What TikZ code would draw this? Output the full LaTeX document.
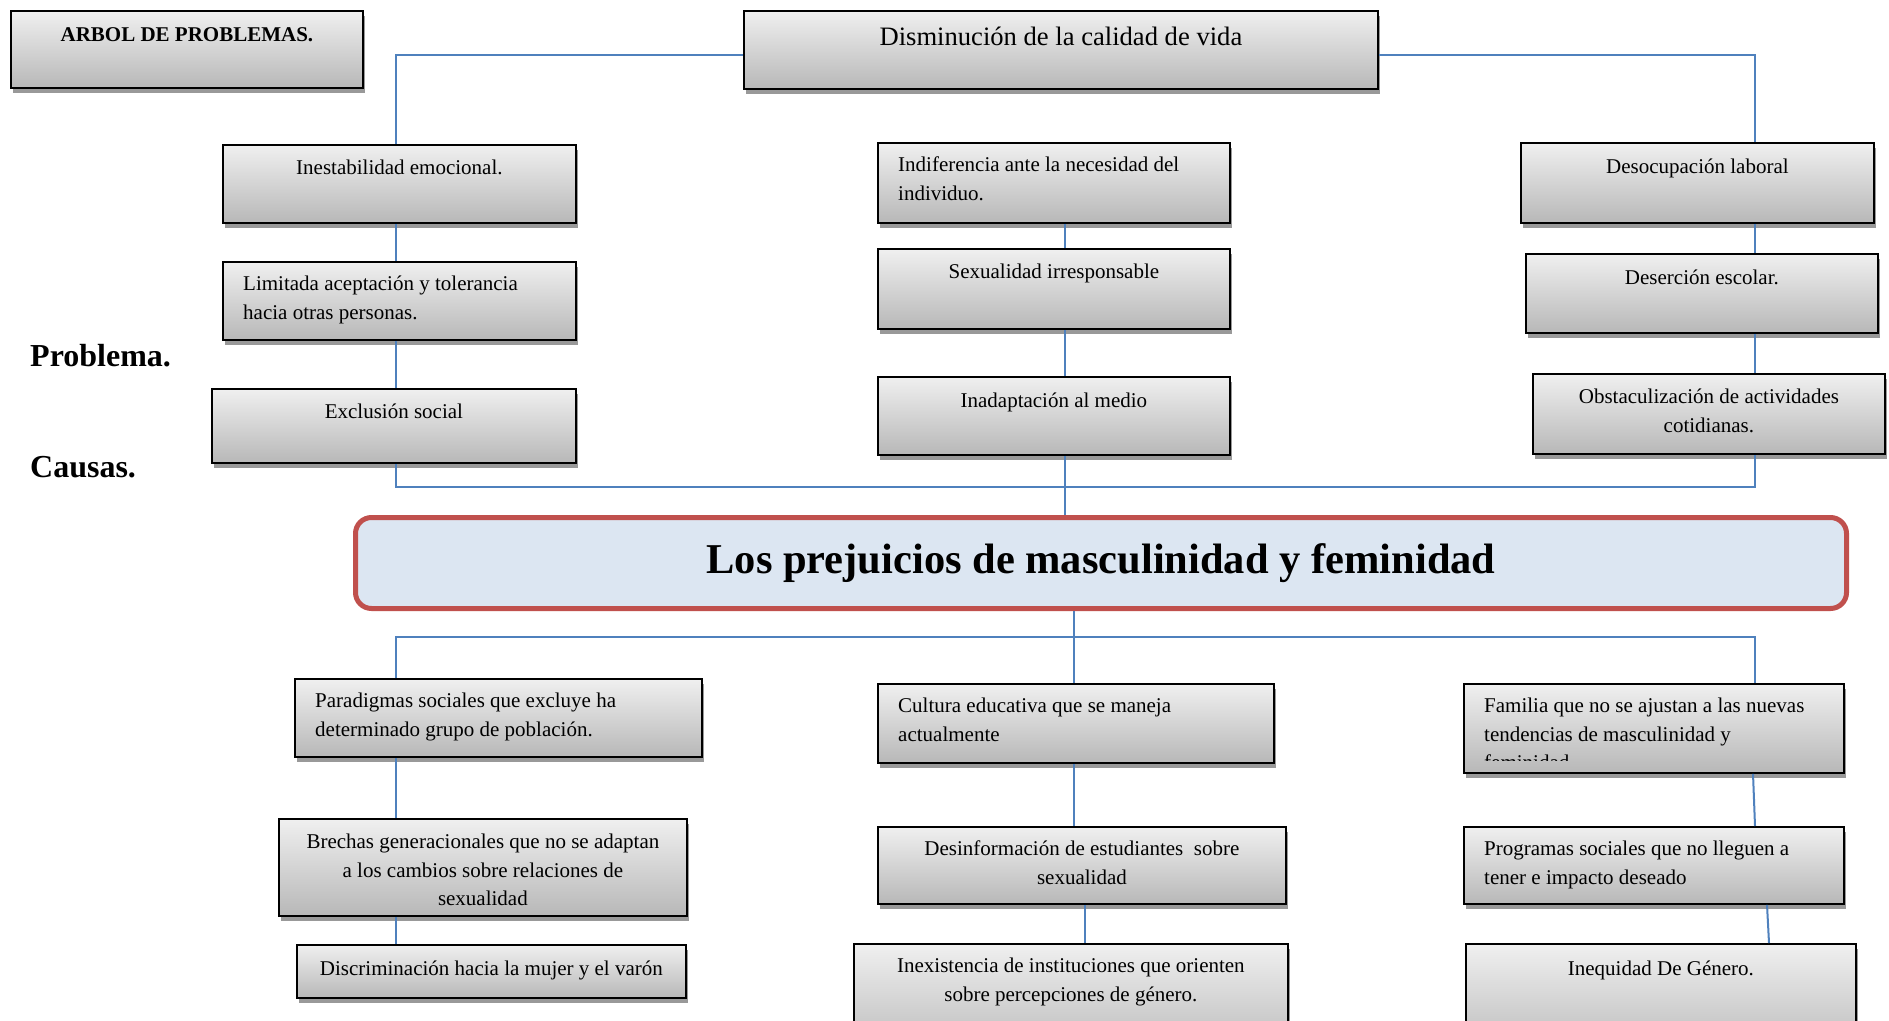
\documentclass[tikz,border=0pt]{standalone}
\usepackage{fontspec}
\setmainfont{Liberation Serif}
\usetikzlibrary{shadows}
\definecolor{lineblue}{HTML}{4F81BD}
\definecolor{redborder}{HTML}{C0504D}
\definecolor{centerfill}{HTML}{DCE6F2}
\tikzset{
  gbox/.style={rectangle, draw=black, line width=1.8pt, top color=black!6, bottom color=black!28,
    inner sep=0pt, anchor=north west,
    drop shadow={shadow xshift=2pt, shadow yshift=-5pt, fill=black!40, opacity=1}},
  conn/.style={draw=lineblue, line width=2pt},
  txt/.style={inner sep=0pt, font=\fontsize{21}{28.5}\selectfont, execute at begin node=\strut},
  txtl/.style={txt, align=left, anchor=north west},
  txtc/.style={txt, align=center, anchor=north},
  side/.style={inner sep=0pt, anchor=base west, font=\fontsize{32}{36}\selectfont\bfseries},
  centralbox/.style={rectangle, rounded corners=16pt, draw=redborder, line width=5pt, fill=centerfill,
    anchor=north west, inner sep=0pt, font=\fontsize{42.5}{48}\selectfont\bfseries}
}
\begin{document}
\begin{tikzpicture}[x=1pt,y=-1pt]
\clip (0,0) rectangle (1889,1020);
\fill[white] (0,0) rectangle (1889,1020);

% ---------- top boxes ----------
\node[gbox, minimum width=352pt, minimum height=77pt] (arbol) at (10,10) {};
\node[inner sep=0pt, anchor=north, font=\fontsize{21}{28.5}\selectfont\bfseries, execute at begin node=\strut] (arbolt) at ([yshift=-11pt]arbol.north) {ARBOL DE PROBLEMAS.};

\node[gbox, minimum width=634pt, minimum height=78pt] (dism) at (743,10) {};
\node[inner sep=0pt, anchor=north, font=\fontsize{26.6}{32}\selectfont, execute at begin node=\strut] (dismt) at ([yshift=-12.5pt]dism.north) {Disminución de la calidad de vida};

% left column
\node[gbox, minimum width=353pt, minimum height=78pt] (inest) at (222,144) {};
\node[txtc] (inestt) at ([yshift=-10.5pt]inest.north) {Inestabilidad emocional.};
\node[gbox, minimum width=353pt, minimum height=78pt] (limit) at (222,261) {};
\node[txtl] (limitt) at ([shift={(21pt,-15pt)}]limit.north west) {Limitada aceptación y tolerancia\\hacia otras personas.};
\node[gbox, minimum width=364pt, minimum height=74pt] (excl) at (211,388) {};
\node[txtc] (exclt) at ([yshift=-10.5pt]excl.north) {Exclusión social};

% middle column
\node[gbox, minimum width=352pt, minimum height=80pt] (indif) at (877,142) {};
\node[txtl] (indift) at ([shift={(21pt,-15pt)}]indif.north west) {Indiferencia ante la necesidad del\\individuo.};
\node[gbox, minimum width=352pt, minimum height=80pt] (sexu) at (877,248) {};
\node[txtc] (sexut) at ([yshift=-10.5pt]sexu.north) {Sexualidad irresponsable};
\node[gbox, minimum width=352pt, minimum height=78pt] (inad) at (877,376) {};
\node[txtc] (inadt) at ([yshift=-11pt]inad.north) {Inadaptación al medio};

% right column
\node[gbox, minimum width=353pt, minimum height=80pt] (deso) at (1520,142) {};
\node[txtc] (desot) at ([yshift=-11pt]deso.north) {Desocupación laboral};
\node[gbox, minimum width=352pt, minimum height=79pt] (deser) at (1525,253) {};
\node[txtc] (desert) at ([yshift=-11pt]deser.north) {Deserción escolar.};
\node[gbox, minimum width=352pt, minimum height=80pt] (obst) at (1532,373) {};
\node[txtc] (obstt) at ([yshift=-16pt]obst.north) {Obstaculización de actividades\\cotidianas.};

% side labels
\node[side] (problema) at (30,366) {Problema.};
\node[side] (causas) at (30,477) {Causas.};

% central problem
\node[centralbox, minimum width=1491pt, minimum height=91pt] (central) at (353,515) {\raisebox{-2.5pt}{Los prejuicios de masculinidad y feminidad}};

% ---------- bottom boxes ----------
\node[gbox, minimum width=407pt, minimum height=78pt] (para) at (294,678) {};
\node[txtl] (parat) at ([shift={(21pt,-15pt)}]para.north west) {Paradigmas sociales que excluye ha\\determinado grupo de población.};
\node[gbox, minimum width=408pt, minimum height=97pt] (brech) at (278,818) {};
\node[txtc] (brecht) at ([yshift=-16pt]brech.north) {Brechas generacionales que no se adaptan\\a los cambios sobre relaciones de\\sexualidad};
\node[gbox, minimum width=389pt, minimum height=53pt] (discr) at (296,944) {};
\node[txtc] (discrt) at ([yshift=-11pt]discr.north) {Discriminación hacia la mujer y el varón};

\node[gbox, minimum width=396pt, minimum height=79pt] (cult) at (877,683) {};
\node[txtl] (cultt) at ([shift={(21pt,-15pt)}]cult.north west) {Cultura educativa que se maneja\\actualmente};
\node[gbox, minimum width=408pt, minimum height=77pt] (desinf) at (877,826) {};
\node[txtc] (desinft) at ([yshift=-15pt]desinf.north) {Desinformación de estudiantes\ \ sobre\\sexualidad};
\node[gbox, minimum width=434pt, minimum height=117pt] (inex) at (853,943) {};
\node[txtc] (inext) at ([yshift=-15pt]inex.north) {Inexistencia de instituciones que orienten\\sobre percepciones de género.};

\node[gbox, minimum width=380pt, minimum height=89pt] (fam) at (1463,683) {};
\begin{scope}
\clip ([xshift=2pt]fam.north west) rectangle ([yshift=13pt]fam.south east);
\node[txtl] (famt) at ([shift={(21pt,-15pt)}]fam.north west) {Familia que no se ajustan a las nuevas\\tendencias de masculinidad y\\feminidad};
\end{scope}
\node[gbox, minimum width=380pt, minimum height=77pt] (prog) at (1463,826) {};
\node[txtl] (progt) at ([shift={(21pt,-15pt)}]prog.north west) {Programas sociales que no lleguen a\\tener e impacto deseado};
\node[gbox, minimum width=390pt, minimum height=117pt] (ineq) at (1465,943) {};
\node[txtc] (ineqt) at ([yshift=-12pt]ineq.north) {Inequidad De Género.};

% ---------- connectors ----------
\coordinate (xL) at (396,0);
\coordinate (xM) at (1065,0);
\coordinate (xR) at (1755,0);
\coordinate (xB) at (1074,0);
\coordinate (xB2) at (1085,0);
\coordinate (xR1) at (1753,0);
\coordinate (xR2) at (1767,0);
\coordinate (xR3) at (1769,0);
\coordinate (causebar) at (0,487);
\coordinate (effbar) at (0,637);

\draw[conn] ([yshift=-5pt]dism.west) -| (xL |- inest.north);
\draw[conn] ([yshift=-5pt]dism.east) -| (xR |- deso.north);
\draw[conn] (xL |- inest.south) -- (xL |- limit.north);
\draw[conn] (xL |- limit.south) -- (xL |- excl.north);
\draw[conn] (xM |- indif.south) -- (xM |- sexu.north);
\draw[conn] (xM |- sexu.south) -- (xM |- inad.north);
\draw[conn] (xR |- deso.south) -- (xR |- deser.north);
\draw[conn] (xR |- deser.south) -- (xR |- obst.north);
\draw[conn] (xL |- excl.south) -- (xL |- causebar) -- (xR |- causebar) -- (xR |- obst.south);
\draw[conn] (xM |- inad.south) -- (xM |- central.north);

\draw[conn] (xB |- central.south) -- (xB |- cult.north);
\draw[conn] (xL |- para.north) -- (xL |- effbar) -- (xR |- effbar) -- (xR |- fam.north);
\draw[conn] (xL |- para.south) -- (xL |- brech.north);
\draw[conn] (xL |- brech.south) -- (xL |- discr.north);
\draw[conn] (xB |- cult.south) -- (xB |- desinf.north);
\draw[conn] (xB2 |- desinf.south) -- (xB2 |- inex.north);
\draw[conn] (xR1 |- fam.south) -- (xR |- prog.north);
\draw[conn] (xR2 |- prog.south) -- (xR3 |- ineq.north);
\end{tikzpicture}
\end{document}
